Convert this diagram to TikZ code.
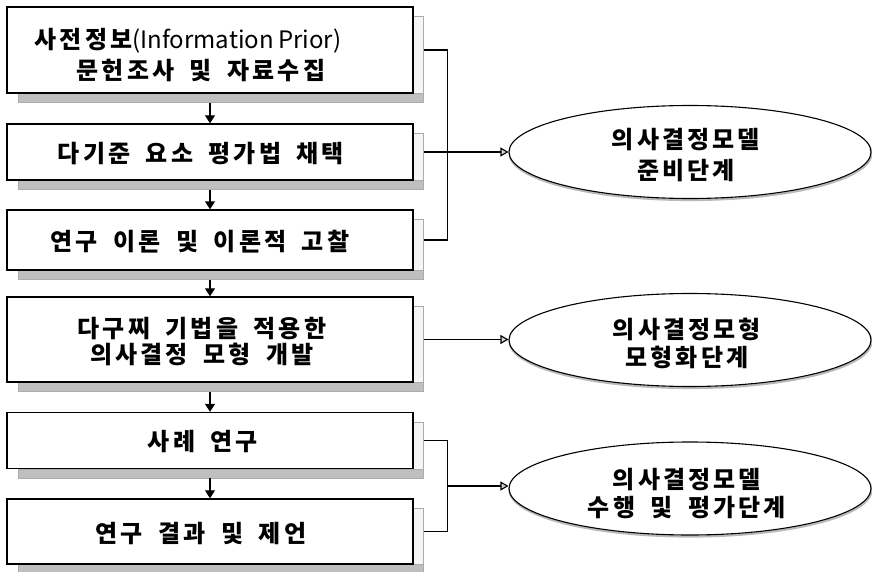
\documentclass[tikz,border=0pt]{standalone}
\usepackage{fontspec}
\setmainfont{Noto Sans CJK KR}[LetterSpace=13,WordSpace=1.8]
\newfontfamily\latinfont{Noto Sans CJK KR}[LetterSpace=0,WordSpace=0.8]
\usetikzlibrary{arrows.meta,backgrounds,calc,shapes.geometric}
\newcommand{\latinpart}[1]{{\latinfont\mdseries #1}}
\tikzset{
  x=1pt,y=-1pt,
  stagebox/.style={draw=black,line width=1.4pt,fill=white,rectangle,minimum width=406pt,inner sep=0pt},
  phase/.style={draw=black,line width=1.1pt,fill=white,ellipse,minimum width=362pt,inner sep=0pt},
  phaseshadow/.style={draw=gray!55,line width=2.2pt,ellipse,minimum width=362pt,inner sep=0pt},
  label/.style={anchor=base,inner sep=0pt,font=\fontsize{24}{28}\selectfont\bfseries},
  flowarrow/.style={line width=1.3pt,-{Triangle[width=10pt,length=8pt]}},
  link/.style={line width=1.1pt},
  phasearrow/.style={line width=1.1pt,-{Triangle[open,fill=gray!35,width=9pt,length=8pt]}},
  shadowbot/.style={fill=gray!50,draw=gray!65,line width=0.6pt},
  shadowside/.style={fill=gray!8,draw=gray!65,line width=0.6pt}
}
\begin{document}
\begin{tikzpicture}
\useasboundingbox (0,0) rectangle (872,572);
% stage boxes
\node[stagebox,minimum height=86pt] (b1) at (210,50) {};
\node[stagebox,minimum height=56pt] (b2) at (210,152) {};
\node[stagebox,minimum height=60pt] (b3) at (210,240) {};
\node[stagebox,minimum height=85pt] (b4) at (210,339.5) {};
\node[stagebox,minimum height=56pt] (b5) at (210,440.5) {};
\node[stagebox,minimum height=65pt] (b6) at (210,531.5) {};
% shadows
\begin{scope}[on background layer]
\foreach \b in {b1,b2,b3,b4,b5,b6}{
  \draw[shadowside] ([shift={(0,10)}]\b.north east) rectangle ([shift={(10,9)}]\b.south east);
  \draw[shadowbot] ([shift={(12,0)}]\b.south west) rectangle ([shift={(10,9)}]\b.south east);
}
\end{scope}
% box texts
\node[label] (t1a) at (188,48.7) {사전정보\latinpart{(Information Prior)}};
\node[label] (t1b) at (201,79.7) {문헌조사 및 자료수집};
\node[label] (t2) at (201,162.2) {다기준 요소 평가법 채택};
\node[label] (t3) at (200,250.2) {연구 이론 및 이론적 고찰};
\node[label] (t4a) at (202,337.2) {다구찌 기법을 적용한};
\node[label] (t4b) at (202,363.2) {의사결정 모형 개발};
\node[label] (t5) at (203,450.7) {사례 연구};
\node[label] (t6) at (201,542.2) {연구 결과 및 제언};
% phase ellipses
\begin{scope}[on background layer]
\node[phaseshadow,minimum height=93pt] (s1) at (690.5,153.5) {};
\node[phaseshadow,minimum height=93pt] (s2) at (690.5,341.5) {};
\node[phaseshadow,minimum height=93pt] (s3) at (690.5,490) {};
\end{scope}
\node[phase,minimum height=93pt] (e1) at (690,152) {};
\node[phase,minimum height=93pt] (e2) at (690,340) {};
\node[phase,minimum height=93pt] (e3) at (690,488.5) {};
\node[label] (p1a) at (686,148.7) {의사결정모델};
\node[label] (p1b) at (686,179.2) {준비단계};
\node[label] (p2a) at (687,338.2) {의사결정모형};
\node[label] (p2b) at (687,366.2) {모형화단계};
\node[label] (p3a) at (687,488.2) {의사결정모델};
\node[label] (p3b) at (687,516.2) {수행 및 평가단계};
% connection points on shadow edges
\foreach \b in {1,...,6}{ \coordinate (r\b) at ([xshift=10pt]b\b.east); }
% flow arrows
\draw[flowarrow] ([yshift=-9]b1.south) -- (b2.north);
\draw[flowarrow] ([yshift=-9]b2.south) -- (b3.north);
\draw[flowarrow] ([yshift=-9]b3.south) -- (b4.north);
\draw[flowarrow] ([yshift=-9]b4.south) -- (b5.north);
\draw[flowarrow] ([yshift=-9]b5.south) -- (b6.north);
% phase brackets
\draw[link] (r1) -- ++(24,0) coordinate (k1) |- (r3);
\draw[phasearrow] (r2) -- (r2 -| e1.west);
\draw[phasearrow] (r4) -- (r4 -| e2.west);
\draw[link] (r5) -- ++(24,0) coordinate (k5) |- (r6);
\coordinate (m5) at ($(k5)!0.5!(k5 |- r6)$);
\draw[phasearrow] (m5) -- (m5 -| e3.west);
\end{tikzpicture}
\end{document}
